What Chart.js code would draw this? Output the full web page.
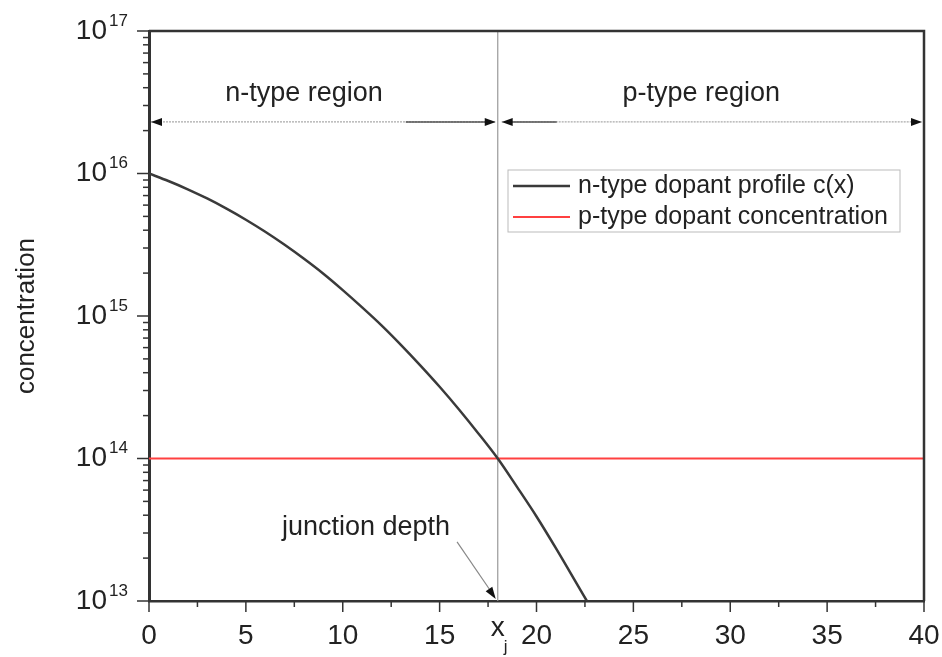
<!DOCTYPE html>
<html>
<head>
<meta charset="utf-8">
<script src="https://cdn.jsdelivr.net/npm/chart.js@4.4.1/dist/chart.umd.min.js"></script>
<style>
  html, body { margin: 0; padding: 0; background: #fff; }
  #wrap { width: 942px; height: 657px; position: relative; }
</style>
</head>
<body>
<div id="wrap"><canvas id="profileChart"></canvas></div>
<script>
// depth values (x axis), and the n-type profile c(x)
const depth = [0, 1, 2, 3, 4, 5, 6, 7, 8, 9, 10, 11, 12, 13, 14, 15, 16, 17, 18, 19, 20, 21, 22, 22.6];
const nProfile = [1.0e16, 8.86e15, 7.75e15, 6.68e15, 5.67e15, 4.74e15, 3.90e15, 3.16e15, 2.52e15, 1.98e15,
  1.52e15, 1.15e15, 8.6e14, 6.28e14, 4.51e14, 3.19e14, 2.21e14, 1.50e14, 1.0e14, 6.3e13,
  3.92e13, 2.35e13, 1.38e13, 1.0e13];

// p-type background level, drawn across the whole depth range
const pDepth = [0, 40];
const pLevel = [1e14, 1e14];

// junction depth x_j and the region arrows
const junctionX = 18;
const junctionSpan = [1e13, 1e17];
const regionNames = ['n-type region', 'p-type region'];
const regionFrom = [0, 18.1];
const regionTo = [18, 40];
const regionLabelX = [8, 28.5];
const arrowLevel = 2.3e16;

const xTickLabels = [0, 5, 10, 15, 20, 25, 30, 35, 40];
const yDecades = [13, 14, 15, 16, 17];
const legendNames = ['n-type dopant profile c(x)', 'p-type dopant concentration'];

const INK = '#222';
const AXIS = '#333';

function arrowHead(ctx, x, y, dir) {
  ctx.beginPath();
  ctx.moveTo(x, y);
  ctx.lineTo(x - dir * 11, y - 4);
  ctx.lineTo(x - dir * 11, y + 4);
  ctx.closePath();
  ctx.fill();
}

const decor = {
  id: 'decor',
  beforeDatasetsDraw(chart) {
    const { ctx } = chart;
    const xs = chart.scales.x, ys = chart.scales.y;
    ctx.save();
    // region arrows
    const ay = ys.getPixelForValue(arrowLevel);
    ctx.font = '27px "Liberation Sans", Arial, sans-serif';
    ctx.textAlign = 'center';
    ctx.textBaseline = 'middle';
    regionNames.forEach((name, i) => {
      const x0 = xs.getPixelForValue(regionFrom[i]) + 2;
      const x1 = xs.getPixelForValue(regionTo[i]) - 2;
      ctx.strokeStyle = '#aaa';
      ctx.lineWidth = 1.2;
      ctx.setLineDash([2, 1]);
      ctx.beginPath(); ctx.moveTo(x0, ay); ctx.lineTo(x1, ay); ctx.stroke();
      ctx.setLineDash([]);
      ctx.strokeStyle = '#555';
      ctx.lineWidth = 1.6;
      ctx.beginPath();
      if (i === 0) { ctx.moveTo(x1 - 90, ay); ctx.lineTo(x1 - 8, ay); }
      else { ctx.moveTo(x0 + 8, ay); ctx.lineTo(x0 + 55, ay); }
      ctx.stroke();
      ctx.fillStyle = '#111';
      arrowHead(ctx, x0, ay, -1);
      arrowHead(ctx, x1, ay, 1);
      ctx.fillStyle = INK;
      ctx.fillText(name, xs.getPixelForValue(regionLabelX[i]), ay - 28);
    });

    // junction depth note
    const jx = xs.getPixelForValue(junctionX);
    const jy = ys.getPixelForValue(1e13);
    ctx.fillText('junction depth', xs.getPixelForValue(11.2), ys.getPixelForValue(3.3e13));
    const sx = xs.getPixelForValue(15.9), sy = ys.getPixelForValue(2.6e13);
    ctx.strokeStyle = '#888';
    ctx.lineWidth = 1.2;
    ctx.beginPath(); ctx.moveTo(sx, sy); ctx.lineTo(jx - 3, jy - 4); ctx.stroke();
    const ang = Math.atan2(jy - 4 - sy, jx - 3 - sx);
    ctx.fillStyle = '#111';
    ctx.translate(jx - 2, jy - 2);
    ctx.rotate(ang);
    ctx.beginPath(); ctx.moveTo(0, 0); ctx.lineTo(-12, -4); ctx.lineTo(-12, 4); ctx.closePath(); ctx.fill();
    ctx.restore();
  },
  afterDraw(chart) {
    const { ctx, chartArea: a } = chart;
    const xs = chart.scales.x, ys = chart.scales.y;
    ctx.save();
    // frame top and right
    ctx.strokeStyle = AXIS;
    ctx.lineWidth = 2.5;
    ctx.beginPath();
    ctx.moveTo(a.left, a.top); ctx.lineTo(a.right, a.top); ctx.lineTo(a.right, a.bottom);
    ctx.stroke();

    // y ticks (log): majors at decades, minors at 2..9
    ctx.lineWidth = 1.5;
    ys.ticks.forEach(t => {
      const y = ys.getPixelForValue(t.value);
      const major = Math.abs(Math.log10(t.value) - Math.round(Math.log10(t.value))) < 1e-9;
      ctx.beginPath(); ctx.moveTo(a.left, y); ctx.lineTo(a.left - (major ? 12 : 6), y); ctx.stroke();
    });
    // x ticks
    xs.ticks.forEach(t => {
      const x = xs.getPixelForValue(t.value);
      const major = t.value % 5 === 0;
      ctx.beginPath(); ctx.moveTo(x, a.bottom); ctx.lineTo(x, a.bottom + (major ? 11 : 6)); ctx.stroke();
    });

    // y tick labels 10^n
    ctx.fillStyle = INK;
    ctx.textBaseline = 'middle';
    yDecades.forEach(p => {
      const y = ys.getPixelForValue(Math.pow(10, p));
      ctx.font = '28px "Liberation Sans", Arial, sans-serif';
      ctx.textAlign = 'right';
      ctx.fillText('10', 107, y);
      ctx.font = '17px "Liberation Sans", Arial, sans-serif';
      ctx.textAlign = 'left';
      ctx.fillText(String(p), 109, y - 10);
    });

    // x_j under the axis
    const jx = xs.getPixelForValue(junctionX);
    ctx.font = '28px "Liberation Sans", Arial, sans-serif';
    ctx.textAlign = 'center';
    ctx.fillText('x', jx, 628);
    ctx.font = '17px "Liberation Sans", Arial, sans-serif';
    ctx.fillText('j', jx + 8, 647);

    // y axis title
    ctx.save();
    ctx.translate(27, (a.top + a.bottom) / 2);
    ctx.rotate(-Math.PI / 2);
    ctx.font = '26px "Liberation Sans", Arial, sans-serif';
    ctx.textAlign = 'center';
    ctx.fillText('concentration', 0, 0);
    ctx.restore();

    // legend box
    const lx = 508, ly = 170, lw = 392, lh = 62;
    ctx.strokeStyle = '#bbb';
    ctx.lineWidth = 1;
    ctx.strokeRect(lx, ly, lw, lh);
    ctx.font = '25px "Liberation Sans", Arial, sans-serif';
    ctx.textAlign = 'left';
    legendNames.forEach((name, i) => {
      const ds = chart.data.datasets[i];
      const y = ly + 16 + i * 31;
      ctx.strokeStyle = ds.borderColor;
      ctx.lineWidth = ds.borderWidth;
      ctx.beginPath(); ctx.moveTo(lx + 5, y); ctx.lineTo(lx + 62, y); ctx.stroke();
      ctx.fillStyle = INK;
      ctx.fillText(name, lx + 70, y);
    });
    ctx.restore();
  }
};

new Chart(document.getElementById('profileChart'), {
  type: 'line',
  data: {
    datasets: [
      {
        label: legendNames[0],
        data: depth.map((x, i) => ({ x, y: nProfile[i] })),
        borderColor: '#3a3a3a',
        borderWidth: 2.5,
        pointRadius: 0,
        cubicInterpolationMode: 'monotone',
        order: 1
      },
      {
        label: legendNames[1],
        data: pDepth.map((x, i) => ({ x, y: pLevel[i] })),
        borderColor: '#ff4040',
        borderWidth: 2,
        pointRadius: 0,
        order: 2
      },
      {
        label: 'junction',
        data: junctionSpan.map(y => ({ x: junctionX, y })),
        borderColor: '#999',
        borderWidth: 1.2,
        pointRadius: 0,
        order: 3
      }
    ]
  },
  options: {
    responsive: true,
    maintainAspectRatio: false,
    animation: false,
    layout: { padding: { top: 31, right: 18, left: 0, bottom: 0 } },
    plugins: { legend: { display: false }, tooltip: { enabled: false } },
    scales: {
      x: {
        type: 'linear',
        min: 0,
        max: 40,
        afterBuildTicks: (s) => {
          s.ticks = [];
          for (let v = 0; v <= 40; v += 2.5) s.ticks.push({ value: v });
        },
        afterFit: (s) => { s.height = 56; s.paddingRight = 0; s.paddingLeft = 0; },
        ticks: {
          autoSkip: false,
          maxRotation: 0,
          padding: 10,
          color: INK,
          font: { family: '"Liberation Sans", Arial, sans-serif', size: 28 },
          callback: (v) => xTickLabels.includes(v) ? String(v) : ''
        },
        grid: { display: false },
        border: { display: true, color: AXIS, width: 2.5 }
      },
      y: {
        type: 'logarithmic',
        min: 1e13,
        max: 1e17,
        afterBuildTicks: (s) => {
          s.ticks = [];
          for (let p = 13; p < 17; p++) {
            for (let m = 1; m <= 9; m++) s.ticks.push({ value: m * Math.pow(10, p) });
          }
          s.ticks.push({ value: 1e17 });
        },
        afterFit: (s) => { s.width = 149; s.paddingTop = 0; s.paddingBottom = 0; },
        ticks: { display: false },
        grid: { display: false },
        border: { display: true, color: AXIS, width: 3 }
      }
    }
  },
  plugins: [decor]
});
</script>
</body>
</html>
